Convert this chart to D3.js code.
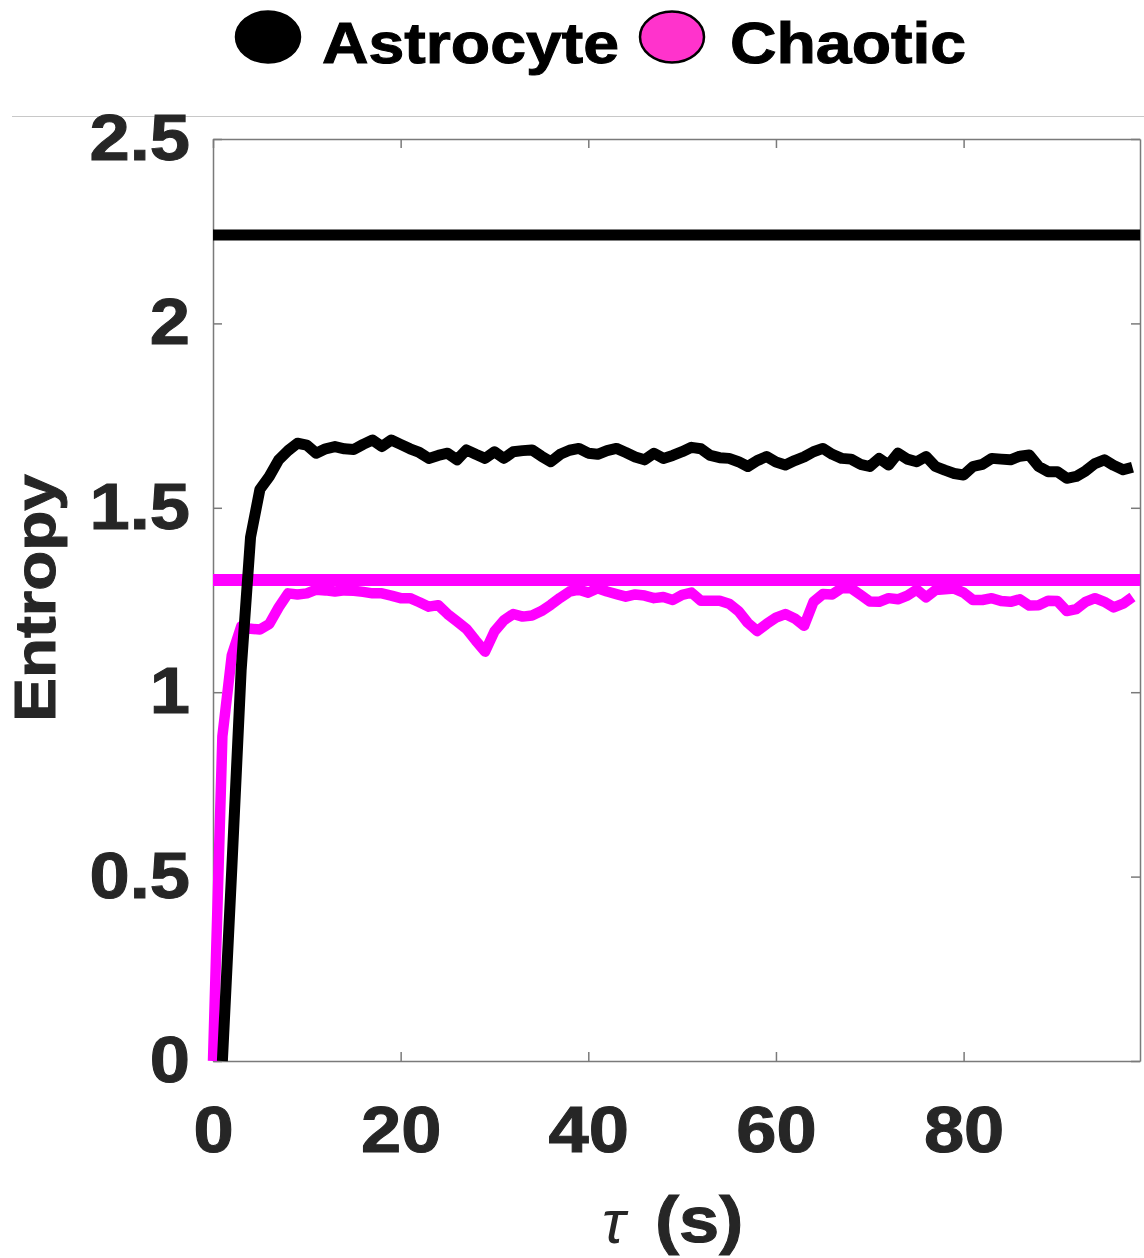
<!DOCTYPE html>
<html>
<head>
<meta charset="utf-8">
<script src="https://cdn.jsdelivr.net/npm/d3@7/dist/d3.min.js"></script>
<style>
  body { margin: 0; background: #fff; }
  text { font-family: "Liberation Sans", Arial, sans-serif; }
</style>
</head>
<body>
<div id="chart-area"></div>
<script>
//============================DATA============================
var seriesNames = ["Astrocyte", "Chaotic"];
var seriesColors = ["#000000", "#ff00ff"];
var legendFill = ["#000000", "#ff33cc"];

// reference (horizontal) entropy level for each series
var refLevels = [2.24, 1.304];

// tau (s) sampling
var tauAstro = d3.range(1, 99);
var tauChaos = d3.range(0, 99);

var astroValues = [0, 0.52, 1.06, 1.42, 1.55, 1.585, 1.63, 1.655, 1.675, 1.67,
  1.648, 1.66, 1.666, 1.66, 1.658, 1.672, 1.684, 1.666, 1.684, 1.672,
  1.66, 1.65, 1.634, 1.642, 1.648, 1.63, 1.657, 1.645, 1.634, 1.652,
  1.634, 1.652, 1.655, 1.657, 1.64, 1.625, 1.645, 1.656, 1.661, 1.648,
  1.645, 1.655, 1.661, 1.65, 1.638, 1.63, 1.648, 1.634, 1.642, 1.652,
  1.664, 1.66, 1.642, 1.636, 1.634, 1.625, 1.612, 1.628, 1.639, 1.624,
  1.616, 1.628, 1.638, 1.652, 1.661, 1.645, 1.634, 1.632, 1.618, 1.612,
  1.634, 1.616, 1.648, 1.632, 1.625, 1.639, 1.612, 1.602, 1.593, 1.589,
  1.612, 1.618, 1.634, 1.632, 1.63, 1.64, 1.643, 1.612, 1.598, 1.598,
  1.58, 1.585, 1.6, 1.62, 1.63, 1.615, 1.603, 1.61];

var chaosValues = [0, 0.88, 1.1, 1.178, 1.172, 1.17, 1.185, 1.23, 1.268, 1.265,
  1.268, 1.278, 1.276, 1.273, 1.276, 1.275, 1.272, 1.268, 1.268, 1.262,
  1.255, 1.255, 1.244, 1.232, 1.236, 1.212, 1.192, 1.172, 1.14, 1.11,
  1.165, 1.195, 1.212, 1.205, 1.208, 1.22, 1.237, 1.256, 1.273, 1.278,
  1.27, 1.282, 1.273, 1.266, 1.259, 1.265, 1.262, 1.255, 1.258, 1.25,
  1.264, 1.27, 1.248, 1.248, 1.248, 1.24, 1.22, 1.188, 1.166, 1.185,
  1.202, 1.212, 1.2, 1.18, 1.245, 1.266, 1.265, 1.282, 1.282, 1.264,
  1.246, 1.245, 1.255, 1.252, 1.262, 1.278, 1.257, 1.277, 1.279, 1.281,
  1.27, 1.25, 1.25, 1.255, 1.247, 1.245, 1.252, 1.235, 1.236, 1.248,
  1.247, 1.22, 1.225, 1.245, 1.255, 1.245, 1.23, 1.24, 1.258];

var xTicks = [0, 20, 40, 60, 80];
var yTicks = [0, 0.5, 1, 1.5, 2, 2.5];
var yTickLabels = ["0", "0.5", "1", "1.5", "2", "2.5"];
var xDomain = [0, 98.8];
var yDomain = [0, 2.5];

//============================LAYOUT============================
var W = 1144, H = 1258;
var margins = { left: 213, right: 4, top: 139, bottom: 197 };
var width = W - margins.left - margins.right;
var height = H - margins.top - margins.bottom;
var STRETCH = 1.13;  // the original font is a bit wider than Liberation Sans

var svg = d3.select("#chart-area")
  .append("svg")
  .attr("width", W)
  .attr("height", H);

// widen text horizontally to mimic the original face
function stretch(sel) {
  sel.each(function() {
    var len = this.getComputedTextLength();
    d3.select(this)
      .attr("textLength", len * STRETCH)
      .attr("lengthAdjust", "spacingAndGlyphs");
  });
}

// separator line between legend and plot
svg.append("line")
  .attr("x1", 12).attr("x2", W)
  .attr("y1", 116.5).attr("y2", 116.5)
  .attr("stroke", "#c8c8c8")
  .attr("stroke-width", 1);

// legend
var legendX = [268, 672];
var legendTextX = [322, 730];
seriesNames.forEach(function(name, i) {
  svg.append("ellipse")
    .attr("cx", legendX[i]).attr("cy", 37)
    .attr("rx", 32).attr("ry", 25.5)
    .attr("fill", legendFill[i])
    .attr("stroke", "#000")
    .attr("stroke-width", 2.5);
  svg.append("text")
    .attr("x", legendTextX[i]).attr("y", 63)
    .attr("font-size", "57px")
    .attr("font-weight", "bold")
    .attr("fill", "#000")
    .attr("stroke", "#000")
    .attr("stroke-width", 1)
    .text(name)
    .call(stretch);
});

var g = svg.append("g")
  .attr("transform", "translate(" + margins.left + "," + margins.top + ")");

var x = d3.scaleLinear().domain(xDomain).range([0, width]);
var y = d3.scaleLinear().domain(yDomain).range([height, 0]);

//============================AXES============================
function styleAxis(sel) {
  sel.select(".domain").attr("stroke", "#7a7a7a").attr("stroke-width", 1.5);
  sel.selectAll(".tick line").attr("stroke", "#7a7a7a").attr("stroke-width", 1.5);
  sel.selectAll(".tick text")
    .attr("font-family", "'Liberation Sans', Arial, sans-serif")
    .attr("font-size", "64px")
    .attr("font-weight", "bold")
    .attr("fill", "#262626")
    .attr("stroke", "#262626")
    .attr("stroke-width", 1);
}

var yAxis = g.append("g")
  .call(d3.axisLeft(y).tickValues(yTicks)
    .tickFormat(function(d, i) { return yTickLabels[i]; })
    .tickSizeInner(-9).tickSizeOuter(0).tickPadding(23))
  .call(styleAxis);
yAxis.selectAll(".tick text").call(stretch);

var xAxis = g.append("g")
  .attr("transform", "translate(0," + height + ")")
  .call(d3.axisBottom(x).tickValues(xTicks)
    .tickSizeInner(-9).tickSizeOuter(0).tickPadding(46))
  .call(styleAxis);
xAxis.selectAll(".tick text").call(stretch);

g.append("g")
  .call(d3.axisTop(x).tickValues(xTicks).tickFormat("")
    .tickSizeInner(-9).tickSizeOuter(0))
  .call(styleAxis);

g.append("g")
  .attr("transform", "translate(" + width + ",0)")
  .call(d3.axisRight(y).tickValues(yTicks).tickFormat("")
    .tickSizeInner(-9).tickSizeOuter(0))
  .call(styleAxis);

// axis labels
svg.append("text")
  .attr("transform", "translate(55,598) rotate(-90)")
  .attr("text-anchor", "middle")
  .attr("font-size", "58px")
  .attr("font-weight", "bold")
  .attr("fill", "#262626")
  .attr("stroke", "#262626")
  .attr("stroke-width", 1)
  .text("Entropy")
  .call(stretch);

svg.append("text")
  .attr("x", 602).attr("y", 1243)
  .attr("font-family", "'Liberation Serif', 'DejaVu Serif', serif")
  .attr("font-style", "italic")
  .attr("font-size", "62px")
  .attr("fill", "#262626")
  .text("\u03C4");

svg.append("text")
  .attr("x", 655).attr("y", 1242)
  .attr("font-size", "64px")
  .attr("font-weight", "bold")
  .attr("fill", "#262626")
  .attr("stroke", "#262626")
  .attr("stroke-width", 1)
  .text("(s)")
  .call(stretch);

//============================LINES============================
// reference levels
refLevels.forEach(function(v, i) {
  g.append("path")
    .datum(xDomain)
    .attr("fill", "none")
    .attr("stroke", seriesColors[i])
    .attr("stroke-width", i === 0 ? 11 : 12)
    .attr("d", d3.line().x(function(d) { return x(d); }).y(function() { return y(v); }));
});

var line = d3.line()
  .x(function(d) { return x(d[0]); })
  .y(function(d) { return y(d[1]); });

g.append("path")
  .datum(d3.zip(tauChaos, chaosValues))
  .attr("fill", "none")
  .attr("stroke", seriesColors[1])
  .attr("stroke-width", 10.5)
  .attr("stroke-linejoin", "round")
  .attr("d", line);

g.append("path")
  .datum(d3.zip(tauAstro, astroValues))
  .attr("fill", "none")
  .attr("stroke", seriesColors[0])
  .attr("stroke-width", 11)
  .attr("stroke-linejoin", "round")
  .attr("d", line);
</script>
</body>
</html>
